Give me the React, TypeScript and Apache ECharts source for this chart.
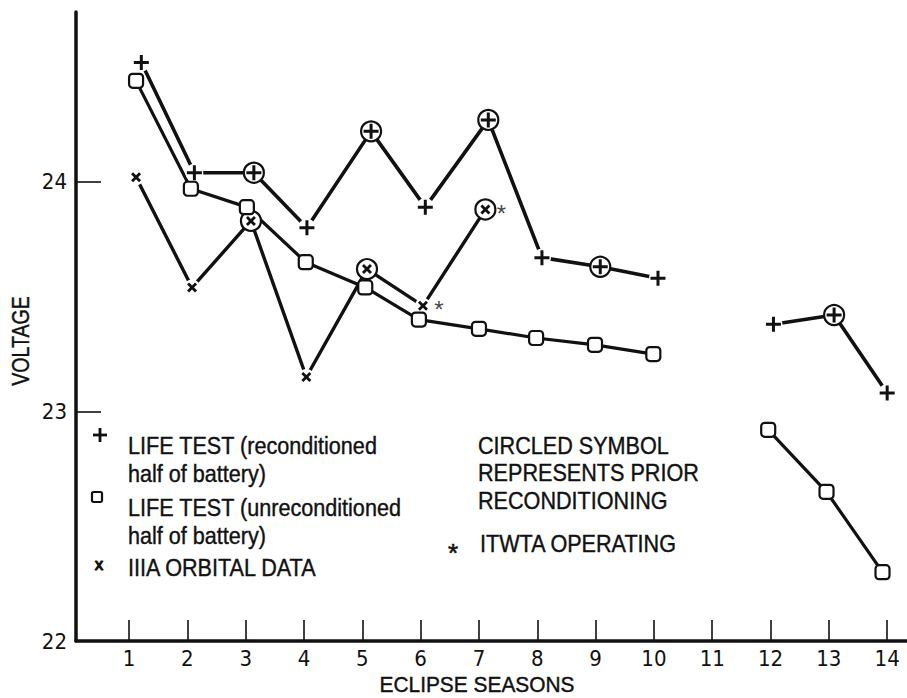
import React, { useEffect, useRef } from "react";
import * as echarts from "echarts";

// ---- data ----
const seasonTicks = [1, 2, 3, 4, 5, 6, 7, 8, 9, 10, 11, 12, 13, 14];
const voltageTicks = [22, 23, 24];

// LIFE TEST (reconditioned half of battery)  "+"
const reconX = [1.21, 2.12, 3.14, 4.05, 5.15, 6.08, 7.16, 8.08, 9.08, 10.07, 11, 12.05, 13.09, 14.0];
const reconV: (number | null)[] = [24.52, 24.04, 24.04, 23.8, 24.22, 23.89, 24.27, 23.67, 23.63, 23.58, null, 23.38, 23.42, 23.08];
const reconCircled = [false, false, true, false, true, false, true, false, true, false, false, false, true, false];

// LIFE TEST (unreconditioned half of battery)  square
const unreconX = [1.12, 2.06, 3.02, 4.03, 5.05, 5.97, 7.0, 7.98, 8.99, 9.99, 11, 11.96, 12.96, 13.92];
const unreconV: (number | null)[] = [24.44, 23.97, 23.89, 23.65, 23.54, 23.4, 23.36, 23.32, 23.29, 23.25, null, 22.92, 22.65, 22.3];

// IIIA ORBITAL DATA  "x"
const orbitalX = [1.12, 2.08, 3.09, 4.04, 5.08, 6.04, 7.11];
const orbitalV = [24.02, 23.54, 23.83, 23.15, 23.62, 23.46, 23.88];
const orbitalCircled = [false, false, true, false, true, false, true];
const orbitalItwta = [false, false, false, false, false, true, true];

const legendLeft = [
  "LIFE TEST (reconditioned",
  "half of battery)",
  "LIFE TEST (unreconditioned",
  "half of battery)",
  "IIIA ORBITAL DATA",
];
const legendRight = ["CIRCLED SYMBOL", "REPRESENTS PRIOR", "RECONDITIONING", "ITWTA OPERATING"];

const INK = "#111";
const PLUS = "path://M0.4,0H0.6V0.4H1V0.6H0.6V1H0.4V0.6H0V0.4H0.4Z";
const CROSS =
  "path://M0,0.2L0.2,0L0.5,0.3L0.8,0L1,0.2L0.7,0.5L1,0.8L0.8,1L0.5,0.7L0.2,1L0,0.8L0.3,0.5Z";
const FONT = '"Liberation Sans", Arial, sans-serif';
const NARROW = '"Liberation Sans Narrow", "DejaVu Sans Condensed", "Liberation Sans", sans-serif';

function pairs(xs: number[], vs: (number | null)[]) {
  return xs.map((x, i) => [x, vs[i] === null ? "-" : vs[i]]);
}
function pick(xs: number[], vs: (number | null)[], flags?: boolean[]) {
  const out: number[][] = [];
  xs.forEach((x, i) => {
    const v = vs[i];
    if (v !== null && (!flags || flags[i])) out.push([x, v as number]);
  });
  return out;
}

export default function App() {
  const ref = useRef<HTMLDivElement>(null);
  useEffect(() => {
    if (!ref.current) return;
    const chart = echarts.init(ref.current, null, { renderer: "svg" });

    const txt = (text: string, x: number, y: number, extra: any = {}) => ({
      type: "text",
      x,
      y,
      scaleX: extra.scaleX ?? 0.9,
      rotation: extra.rotation ?? 0,
      z: 10,
      style: {
        text,
        fontSize: extra.fontSize ?? 24,
        fontFamily: FONT,
        fontWeight: extra.fontWeight ?? "normal",
        fill: INK,
        stroke: INK,
        lineWidth: extra.lineWidth ?? 0.4,
        textAlign: extra.align ?? "left",
        textVerticalAlign: "middle",
      },
    });

    const legendYs = [446, 474, 508, 536, 568];
    const rightYs = [446, 473, 501, 544];

    chart.setOption({
      animation: false,
      backgroundColor: "#fff",
      grid: { left: 76, right: 0, top: 12, bottom: 57, containLabel: false },
      xAxis: {
        type: "value",
        min: 0.09,
        max: 14.34,
        splitLine: { show: false },
        axisLine: { onZero: false, lineStyle: { color: INK, width: 3.5 } },
        axisTick: {
          show: true,
          inside: true,
          length: 21,
          customValues: seasonTicks,
          lineStyle: { color: INK, width: 1.6 },
        },
        axisLabel: {
          customValues: seasonTicks,
          color: INK,
          fontSize: 22,
          fontFamily: NARROW,
          margin: 6,
        },
      },
      yAxis: {
        type: "value",
        min: 22,
        max: 24.74,
        splitLine: { show: false },
        axisLine: { show: true, onZero: false, lineStyle: { color: INK, width: 3.5 } },
        axisTick: {
          show: true,
          inside: true,
          length: 25,
          customValues: [23, 24],
          lineStyle: { color: INK, width: 1.6 },
        },
        axisLabel: {
          customValues: voltageTicks,
          color: INK,
          fontSize: 22,
          fontFamily: NARROW,
          margin: 9,
        },
      },
      series: [
        {
          type: "line",
          data: pairs(reconX, reconV),
          symbol: "none",
          z: 2,
          lineStyle: { color: INK, width: 3.6 },
        },
        {
          type: "line",
          data: pairs(unreconX, unreconV),
          symbol: "none",
          z: 2,
          lineStyle: { color: INK, width: 3.2 },
        },
        {
          type: "line",
          data: pairs(orbitalX, orbitalV),
          symbol: "none",
          z: 2,
          lineStyle: { color: INK, width: 3.4 },
        },
        // white gaps around plain markers
        {
          type: "scatter",
          data: pick(reconX, reconV, reconCircled.map((c) => !c)),
          symbol: "circle",
          symbolSize: 18,
          z: 3,
          itemStyle: { color: "#fff", opacity: 1 },
        },
        {
          type: "scatter",
          data: pick(orbitalX, orbitalV, orbitalCircled.map((c) => !c)),
          symbol: "circle",
          symbolSize: 16,
          z: 3,
          itemStyle: { color: "#fff", opacity: 1 },
        },
        // circles (prior reconditioning)
        {
          type: "scatter",
          data: pick(reconX, reconV, reconCircled),
          symbol: "circle",
          symbolSize: 20,
          z: 4,
          itemStyle: { color: "#fff", borderColor: INK, borderWidth: 2.2, opacity: 1 },
        },
        {
          type: "scatter",
          data: pick(orbitalX, orbitalV, orbitalCircled),
          symbol: "circle",
          symbolSize: 20,
          z: 4,
          itemStyle: { color: "#fff", borderColor: INK, borderWidth: 2.2, opacity: 1 },
        },
        // squares
        {
          type: "scatter",
          data: pick(unreconX, unreconV),
          symbol: "roundRect",
          symbolSize: 14,
          z: 5,
          itemStyle: { color: "#fff", borderColor: INK, borderWidth: 2.2, opacity: 1 },
        },
        // plus markers
        {
          type: "scatter",
          data: pick(reconX, reconV),
          symbol: PLUS,
          symbolSize: 15,
          z: 6,
          itemStyle: { color: INK, opacity: 1 },
        },
        // x markers
        {
          type: "scatter",
          data: pick(orbitalX, orbitalV),
          symbol: CROSS,
          symbolSize: 10,
          z: 6,
          itemStyle: { color: INK, opacity: 1 },
        },
        // ITWTA operating asterisks
        {
          type: "scatter",
          data: pick(orbitalX, orbitalV, orbitalItwta),
          symbol: "circle",
          symbolSize: 1,
          z: 7,
          itemStyle: { color: "rgba(0,0,0,0)" },
          label: {
            show: true,
            formatter: "*",
            position: "inside",
            offset: [16, 4],
            fontSize: 24,
            fontFamily: FONT,
            color: INK,
          },
        },
      ],
      graphic: [
        // legend symbols
        { type: "line", z: 10, shape: { x1: 100, y1: 428, x2: 100, y2: 442 }, style: { stroke: INK, lineWidth: 2.8 } },
        { type: "line", z: 10, shape: { x1: 93, y1: 435, x2: 107, y2: 435 }, style: { stroke: INK, lineWidth: 2.8 } },
        { type: "rect", z: 10, shape: { x: 92, y: 492, width: 10, height: 10, r: 1.5 }, style: { fill: "#fff", stroke: INK, lineWidth: 2.2 } },
        txt("x", 99, 564, { fontSize: 17, align: "center", scaleX: 1, lineWidth: 1.2 }),
        txt("*", 453, 553, { fontSize: 26, align: "center", scaleX: 1, lineWidth: 0.6 }),
        ...legendLeft.map((t, i) => txt(t, 128, legendYs[i])),
        ...legendRight.map((t, i) => txt(t, i === 3 ? 480 : 478, rightYs[i])),
        txt("ECLIPSE SEASONS", 477, 685, { fontSize: 22, align: "center", scaleX: 0.95 }),
        txt("VOLTAGE", 21, 341, { fontSize: 23, align: "center", scaleX: 0.85, rotation: Math.PI / 2 }),
      ],
    });
    return () => chart.dispose();
  }, []);
  return <div ref={ref} style={{ width: 907, height: 698, position: "absolute", left: 0, top: 0 }} />;
}
